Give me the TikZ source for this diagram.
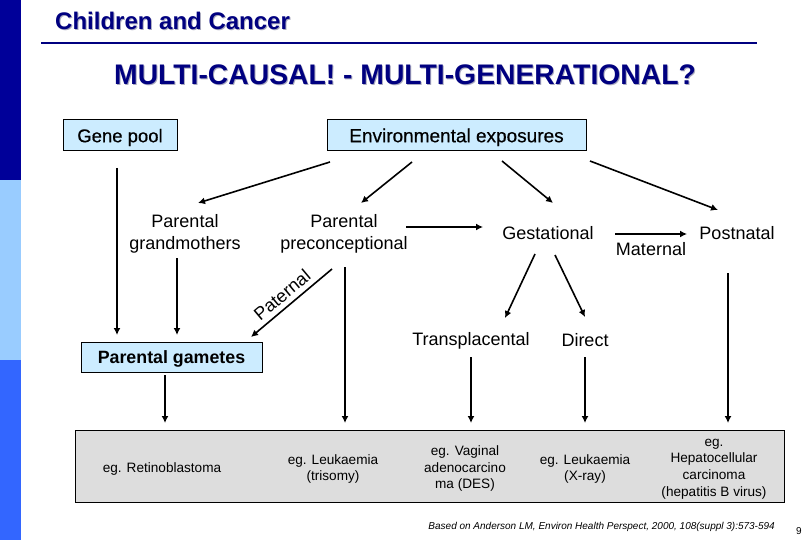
\documentclass[tikz,border=0pt]{standalone}
\usepackage{fontspec}
\setmainfont{Liberation Sans}
\newfontfamily\semibold[FakeBold=0.5]{Liberation Sans}
\usetikzlibrary{arrows.meta,positioning}
\definecolor{navyband}{RGB}{0,0,153}
\definecolor{lightband}{RGB}{153,204,255}
\definecolor{midband}{RGB}{51,102,255}
\definecolor{titlenavy}{RGB}{0,0,128}
\definecolor{shadowgray}{RGB}{170,170,190}
\definecolor{boxblue}{RGB}{204,236,255}
\definecolor{boxgray}{RGB}{221,221,221}
\newcommand{\shadowed}[1]{\rlap{\hspace{1pt}\raisebox{-1pt}{\color{shadowgray}#1}}#1}
\newcommand{\fsize}[2]{\fontsize{#1}{#2}\selectfont}
\begin{document}
\begin{tikzpicture}[x=1pt,y=-1pt]
  \tikzset{main node/.style={rectangle, draw, fill=boxblue, line width=1pt,
		text centered, inner sep=0pt, text height=13.5pt, text depth=0pt}, }
\tikzset{label node/.style={text centered, align=center, inner sep=0pt,
		font=\fsize{18}{22}}, }
\tikzset{eg node/.style={text centered, align=center, inner sep=0pt,
		font=\fsize{13.6}{16.8}}, }
\tikzset{linea/.style={line width=1.6pt, -{Latex[length=7pt,width=7pt]}},}
\useasboundingbox (0,0) rectangle (810,540);
  % side band
  \fill[navyband] (0,0) rectangle (21,180);
  \fill[lightband] (0,180) rectangle (21,360);
  \fill[midband] (0,360) rectangle (21,540);
    \node[anchor=base west, inner sep=0pt, text=titlenavy, font=\fsize{24}{24}\bfseries] (title) at (55,29.5) {\shadowed{Children and Cancer}};
    \draw[titlenavy, line width=1.5pt] (41,43) -- (757,43);
    \node[anchor=base, inner sep=0pt, text=titlenavy, font=\fsize{28.3}{28.3}\bfseries] (heading) at (405,85) {\shadowed{MULTI-CAUSAL! - MULTI-GENERATIONAL?}};
%
    \node[main node, minimum width=114pt, minimum height=31pt, font=\fsize{18.5}{18.5}\semibold] (genepool) at (120,135.5) {Gene pool};
    \node[main node, minimum width=259pt, minimum height=31pt, font=\fsize{19}{19}\semibold] (environ) at (456.5,135.5) {Environmental exposures};
    \node[main node, minimum width=181pt, minimum height=30pt, font=\fsize{17.8}{17.8}\bfseries] (gametes) at (171.5,357) {Parental gametes};
    \node[rectangle, draw, fill=boxgray, line width=1pt, minimum width=709pt, minimum height=72pt] (outcomes) at (429.5,466) {};
%
    \node[label node] (grandm) at (185,233.5) {Parental\\grandmothers};
    \node[label node] (precon) at (344,233.5) {Parental\\preconceptional};
    \node[label node] (gest) at (548,233) {Gestational};
    \node[label node] (matern) at (651,249) {Maternal};
    \node[label node] (postnatal) at (737,233) {Postnatal};
    \node[label node] (transp) at (471,341) {Transplacental};
    \node[label node] (direct) at (585,340) {Direct};
    \node[label node, rotate=40] (patern) at (282,295) {Paternal};
%
    \node[eg node] (retino) at (162,468.5) {eg. Retinoblastoma};
    \node[eg node] (leuktri) at (333,469) {eg. Leukaemia\\(trisomy)};
    \node[eg node] (vaginal) at (465,468.5) {eg. Vaginal\\adenocarcino\\ma (DES)};
    \node[eg node] (leukx) at (585,469) {eg. Leukaemia\\(X-ray)};
    \node[eg node] (hepato) at (714,469) {eg.\\Hepatocellular\\carcinoma\\(hepatitis B virus)};
%
    \node[anchor=base east, inner sep=0pt, font=\fsize{10}{10}\itshape] (source) at (775,529) {Based on Anderson LM, Environ Health Perspect, 2000, 108(suppl 3):573-594};
    \node[anchor=base, inner sep=0pt, font=\fsize{10}{10}] (page) at (799,534) {9};
%
\foreach \a/\ash/\b/\bsh in {genepool/{(-3,32.5)}/gametes/{(-54.5,-22)},
    grandm/{(-8,24.5)}/gametes/{(5.5,-22)},
    environ/{(-126.5,26.5)}/grandm/{(13,-30.5)},
    environ/{(-44.5,26.5)}/precon/{(17,-30.5)},
    environ/{(45.5,25.5)}/gest/{(5,-30)},
    environ/{(133.5,25.5)}/postnatal/{(-19,-23)},
    precon/{(62,-6.5)}/gest/{(-65,-6)},
    gest/{(67,1)}/postnatal/{(-50,1)},
    gest/{(-13,21)}/transp/{(34,-23)},
    gest/{(7,22)}/direct/{(0,-23)},
    transp/{(0,16)}/outcomes/{(41.5,-43)},
    direct/{(0,17)}/outcomes/{(155.5,-43)},
    postnatal/{(-9,40)}/outcomes/{(298.5,-43)},
    gametes/{(-6.5,18)}/outcomes/{(-264.5,-43)},
    precon/{(1,33.5)}/outcomes/{(-84.5,-43)},
    precon/{(-12,35.5)}/gametes/{(79.5,-20)}}
  \draw[linea] ([shift={\ash}]\a.center) -- ([shift={\bsh}]\b.center);
%
\end{tikzpicture}
\end{document}
